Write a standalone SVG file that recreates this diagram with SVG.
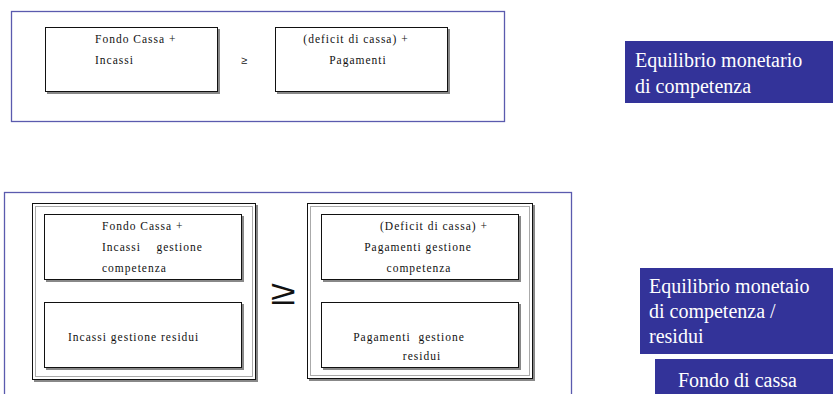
<svg xmlns="http://www.w3.org/2000/svg" width="833" height="394" viewBox="0 0 833 394">
<style>
.frame{fill:none;stroke:#5a5aae;stroke-width:1.3}
.box{fill:#fff;stroke:#111;stroke-width:1}
.shadow{fill:#888;stroke:none}
.inner2{fill:none;stroke:#aaa;stroke-width:1}
.t{font-family:'Liberation Serif','Times New Roman','DejaVu Serif',serif;font-size:11.5px;letter-spacing:1px;fill:#111}
.lab{fill:#333399}
.lt{font-family:'Liberation Serif','Times New Roman','DejaVu Serif',serif;font-size:20px;fill:#fff}
.ge{font-family:'Liberation Sans',sans-serif;fill:#111}
</style>
<rect width="833" height="394" fill="#fff"/>
<g id="top-frame"><rect class="frame" x="11.5" y="11.5" width="493" height="110"/></g>
<g id="top-left">
<rect class="shadow" x="47" y="29" width="173" height="65"/>
<rect class="box" x="45.5" y="27.5" width="172" height="64"/>
<text class="t" x="95" y="43">Fondo Cassa +</text>
<text class="t" x="95" y="64">Incassi</text>
</g>
<g id="top-ge"><text class="ge" x="244" y="64" font-size="11" text-anchor="middle">≥</text></g>
<g id="top-right">
<rect class="shadow" x="277" y="29" width="173" height="65"/>
<rect class="box" x="275.5" y="27.5" width="172" height="64"/>
<text class="t" x="356" y="43" text-anchor="middle">(deficit di cassa) +</text>
<text class="t" x="358" y="64" text-anchor="middle">Pagamenti</text>
</g>
<g id="label1">
<rect class="lab" x="625" y="41" width="208" height="62"/>
<text class="lt" x="635" y="67">Equilibrio monetario</text>
<text class="lt" x="635" y="93">di competenza</text>
</g>
<g id="bottom-frame"><rect class="frame" x="4.5" y="192.5" width="567" height="220"/></g>
<g id="bottom-left">
<rect class="shadow" x="34" y="205" width="224" height="177"/>
<rect class="box" x="32.5" y="203.5" width="223" height="176"/>
<rect class="inner2" x="35.5" y="206.5" width="217" height="170"/>
<rect class="shadow" x="46" y="216" width="198" height="66"/>
<rect class="box" x="44.5" y="214.5" width="197" height="65"/>
<text class="t" x="102" y="230">Fondo Cassa +</text>
<text class="t" x="102" y="251" xml:space="preserve">Incassi    gestione</text>
<text class="t" x="102" y="272">competenza</text>
<rect class="shadow" x="46" y="304" width="198" height="66"/>
<rect class="box" x="44.5" y="302.5" width="197" height="65"/>
<text class="t" x="68" y="341">Incassi gestione residui</text>
</g>
<g id="bottom-ge"><text class="ge" transform="translate(283 304) scale(1.35 1)" x="0" y="0" font-size="34" font-weight="300" text-anchor="middle">≥</text></g>
<g id="bottom-right">
<rect class="shadow" x="309" y="205" width="226" height="176"/>
<rect class="box" x="307.5" y="203.5" width="225" height="175"/>
<rect class="inner2" x="310.5" y="206.5" width="219" height="169"/>
<rect class="shadow" x="323" y="216" width="198" height="66"/>
<rect class="box" x="321.5" y="214.5" width="197" height="65"/>
<text class="t" x="434" y="230" text-anchor="middle">(Deficit di cassa) +</text>
<text class="t" x="418" y="251" text-anchor="middle">Pagamenti gestione</text>
<text class="t" x="419" y="272" text-anchor="middle">competenza</text>
<rect class="shadow" x="323" y="304" width="198" height="66"/>
<rect class="box" x="321.5" y="302.5" width="197" height="65"/>
<text class="t" x="409" y="341" text-anchor="middle" xml:space="preserve">Pagamenti  gestione</text>
<text class="t" x="422" y="360" text-anchor="middle">residui</text>
</g>
<g id="label2">
<rect class="lab" x="640" y="268" width="193" height="86"/>
<text class="lt" x="649" y="293">Equilibrio monetaio</text>
<text class="lt" x="649" y="318">di competenza /</text>
<text class="lt" x="649" y="343">residui</text>
</g>
<g id="label3">
<rect class="lab" x="655" y="359" width="178" height="35"/>
<text class="lt" x="678" y="387">Fondo di cassa</text>
</g>
<g id="connectors"/>
</svg>
